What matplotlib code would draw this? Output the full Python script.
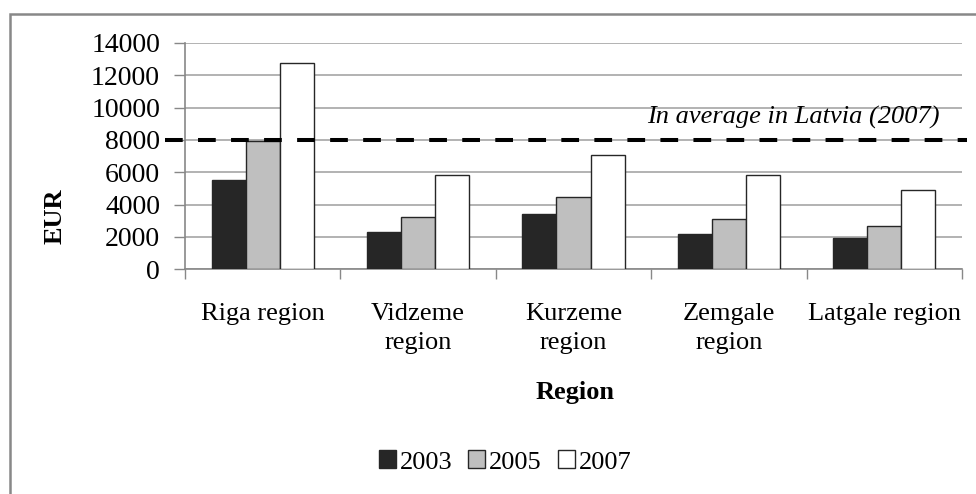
import matplotlib
matplotlib.use("Agg")
import matplotlib.pyplot as plt
import matplotlib.patches as mpatches
import numpy as np

categories = ["Riga region", "Vidzeme\nregion", "Kurzeme\nregion", "Zemgale\nregion", "Latgale region"]
years = ["2003", "2005", "2007"]
v2003 = [5500, 2300, 3400, 2200, 1950]
v2005 = [7950, 3250, 4450, 3100, 2700]
v2007 = [12750, 5850, 7050, 5850, 4900]
latvia_avg_2007 = 8000
yticks = [0, 2000, 4000, 6000, 8000, 10000, 12000, 14000]

plt.rcParams['font.family'] = ['Liberation Serif', 'DejaVu Serif']
FS = 19

fig = plt.figure(figsize=(9.76, 4.94), dpi=100)
ax = fig.add_axes([185/976, 1-269.3/494, 777/976, (269.3-43)/494])

x = np.arange(len(categories))
w = 0.219
colors = ["#262626", "#bfbfbf", "#ffffff"]
series = [v2003, v2005, v2007]
for i, (vals, c, lab) in enumerate(zip(series, colors, years)):
    ax.bar(x + (i-1)*w, vals, width=w, color=c, edgecolor="#262626", linewidth=1.0, label=lab, zorder=3)

ax.set_xlim(-0.5, len(categories)-0.5)
ax.set_ylim(0, 14000)
ax.set_yticks(yticks)
ax.set_yticklabels([str(t) for t in yticks], fontsize=20)
ax.yaxis.grid(True, color="#a6a6a6", linewidth=1.2, zorder=0)
ax.set_axisbelow(True)

ax.set_xticks(np.arange(len(categories)+1) - 0.5)
ax.set_xticklabels([])
ax.set_xticks(x, minor=True)
ax.set_xticklabels(categories, minor=True, fontsize=FS, linespacing=1.42)
ax.tick_params(axis='x', which='minor', length=0, pad=24)
ax.tick_params(axis='x', which='major', length=7, color="#888888", width=1)
ax.tick_params(axis='y', length=8, color="#888888", width=1, pad=10)

for s in ['top', 'right']:
    ax.spines[s].set_visible(False)
for s in ['left', 'bottom']:
    ax.spines[s].set_color("#888888")
    ax.spines[s].set_linewidth(1.2)

# average line
ax.plot([-0.026, 1.006], [latvia_avg_2007, latvia_avg_2007], transform=ax.get_yaxis_transform(),
        color="black", linewidth=2.9, linestyle=(0, (4.4, 3.8)), solid_capstyle='butt',
        dash_capstyle='butt', clip_on=False, zorder=5)
fig.text(940/976, 1-124/494, "In average in Latvia (2007)", fontsize=FS, style='italic',
         ha='right', va='baseline')

fig.text(55/976, 1-216/494, "EUR", fontsize=FS, fontweight='bold', rotation=90,
         ha='center', va='center')
fig.text(575/976, 1-392/494, "Region", fontsize=FS, fontweight='bold', ha='center', va='center')

handles = [mpatches.Patch(facecolor=c, edgecolor="#262626", linewidth=1.0) for c in colors]
fig.legend(handles, years, loc='center', bbox_to_anchor=(505/976, 1-462/494), ncol=3,
           frameon=False, fontsize=FS, handlelength=0.65, handleheight=0.65,
           handletextpad=0.15, columnspacing=0.6)

border = mpatches.Rectangle((10/976, -0.2), 1.2, (494-14)/494 + 0.2, transform=fig.transFigure,
                            fill=False, edgecolor="#888888", linewidth=1.8)
fig.patches.append(border)

fig.savefig("out.png", dpi=100)
